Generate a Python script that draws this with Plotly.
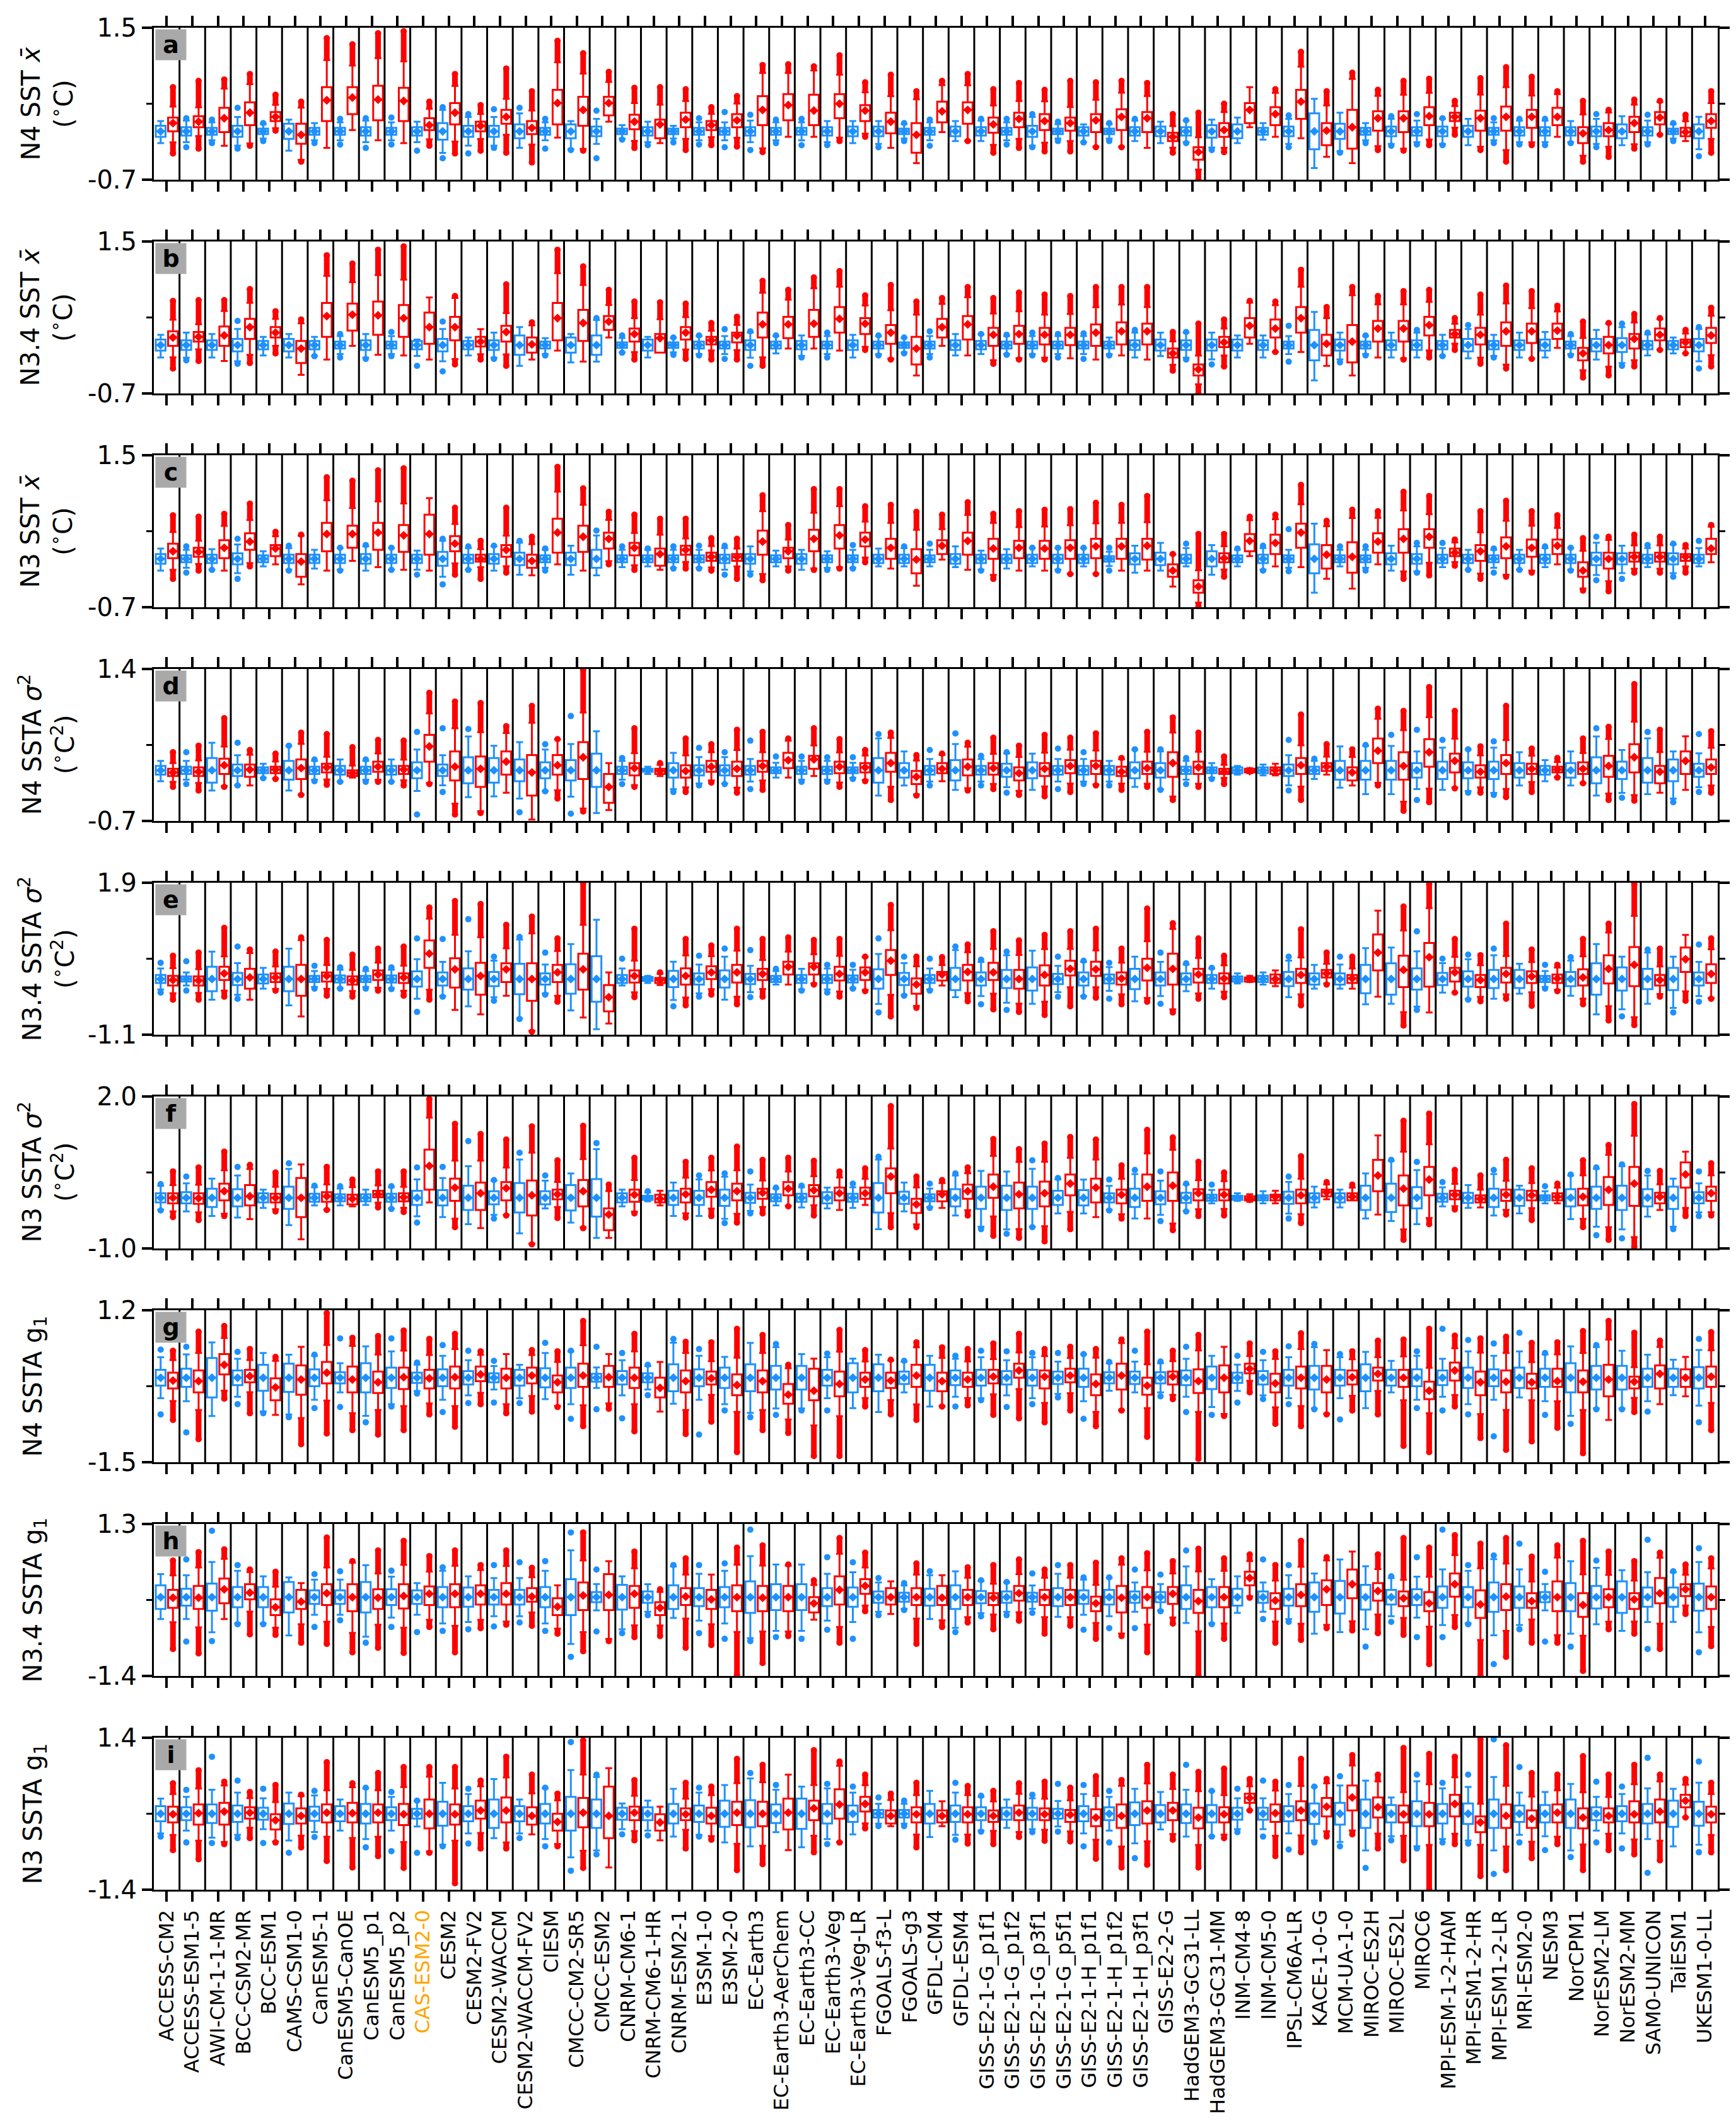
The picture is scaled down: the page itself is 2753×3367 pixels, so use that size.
import plotly.graph_objects as go
from plotly.subplots import make_subplots

RED = "#ff0000"
BLUE = "#1e90ff"
FONT = "DejaVu Sans"

models = [
    "ACCESS-CM2", "ACCESS-ESM1-5", "AWI-CM-1-1-MR", "BCC-CSM2-MR", "BCC-ESM1",
    "CAMS-CSM1-0", "CanESM5-1", "CanESM5-CanOE", "CanESM5_p1", "CanESM5_p2",
    "CAS-ESM2-0", "CESM2", "CESM2-FV2", "CESM2-WACCM", "CESM2-WACCM-FV2",
    "CIESM", "CMCC-CM2-SR5", "CMCC-ESM2", "CNRM-CM6-1", "CNRM-CM6-1-HR",
    "CNRM-ESM2-1", "E3SM-1-0", "E3SM-2-0", "EC-Earth3", "EC-Earth3-AerChem",
    "EC-Earth3-CC", "EC-Earth3-Veg", "EC-Earth3-Veg-LR", "FGOALS-f3-L", "FGOALS-g3",
    "GFDL-CM4", "GFDL-ESM4", "GISS-E2-1-G_p1f1", "GISS-E2-1-G_p1f2", "GISS-E2-1-G_p3f1",
    "GISS-E2-1-G_p5f1", "GISS-E2-1-H_p1f1", "GISS-E2-1-H_p1f2", "GISS-E2-1-H_p3f1", "GISS-E2-2-G",
    "HadGEM3-GC31-LL", "HadGEM3-GC31-MM", "INM-CM4-8", "INM-CM5-0", "IPSL-CM6A-LR",
    "KACE-1-0-G", "MCM-UA-1-0", "MIROC-ES2H", "MIROC-ES2L", "MIROC6",
    "MPI-ESM-1-2-HAM", "MPI-ESM1-2-HR", "MPI-ESM1-2-LR", "MRI-ESM2-0", "NESM3",
    "NorCPM1", "NorESM2-LM", "NorESM2-MM", "SAM0-UNICON", "TaiESM1",
    "UKESM1-0-LL",
]
highlight = "CAS-ESM2-0"

# ---------------- a: N4 SST mean ----------------
a_red_q3 = [0.20, 0.22, 0.34, 0.42, 0.28, 0.11, 0.64, 0.64, 0.66, 0.63,
            0.19, 0.41, 0.14, 0.31, 0.15, 0.60, 0.50, 0.50, 0.24, 0.17,
            0.27, 0.15, 0.25, 0.51, 0.54, 0.53, 0.54, 0.38, 0.27, 0.12,
            0.43, 0.42, 0.20, 0.27, 0.25, 0.20, 0.25, 0.32, 0.28, -0.02,
            -0.23, 0.12, 0.41, 0.35, 0.60, 0.12, 0.31, 0.29, 0.29, 0.35,
            0.27, 0.30, 0.36, 0.31, 0.34, 0.06, 0.12, 0.21, 0.28, 0.05, 0.25]
a_red_q1 = [0.00, 0.06, -0.01, 0.09, 0.15, -0.18, 0.15, 0.25, 0.16, 0.15,
            0.02, 0.10, 0.00, 0.11, -0.04, 0.10, 0.08, 0.23, 0.03, -0.10,
            0.06, 0.02, 0.06, 0.09, 0.16, 0.09, 0.19, 0.15, -0.03, -0.31,
            0.13, 0.11, -0.02, 0.06, 0.02, 0.01, -0.01, 0.02, -0.01, -0.14,
            -0.41, -0.08, 0.12, 0.09, 0.18, -0.20, -0.25, 0.01, -0.01, 0.09,
            0.15, 0.01, 0.01, 0.05, 0.09, -0.17, -0.07, -0.01, 0.10, -0.07, 0.05]
a_red_mean = [0.12, 0.14, 0.19, 0.27, 0.21, -0.05, 0.45, 0.49, 0.46, 0.44,
              0.09, 0.27, 0.08, 0.21, 0.05, 0.41, 0.31, 0.41, 0.14, 0.10,
              0.17, 0.09, 0.16, 0.31, 0.38, 0.30, 0.40, 0.30, 0.14, -0.05,
              0.29, 0.31, 0.10, 0.18, 0.15, 0.12, 0.16, 0.21, 0.19, -0.08,
              -0.30, 0.02, 0.31, 0.25, 0.43, 0.01, 0.06, 0.19, 0.19, 0.22,
              0.21, 0.19, 0.21, 0.21, 0.21, -0.03, 0.02, 0.12, 0.20, -0.01, 0.15]
a_red_hi = [0.64, 0.73, 0.75, 0.83, 0.53, 0.43, 1.35, 1.26, 1.42, 1.45,
            0.43, 0.83, 0.38, 0.91, 0.58, 1.31, 1.13, 0.86, 0.63, 0.64,
            0.61, 0.35, 0.51, 0.96, 0.97, 0.94, 1.10, 0.71, 0.82, 0.58,
            0.73, 0.83, 0.61, 0.70, 0.60, 0.73, 0.71, 0.73, 0.70, 0.25,
            0.27, 0.40, 0.64, 0.61, 1.15, 0.58, 0.85, 0.60, 0.73, 0.76,
            0.44, 0.77, 0.93, 0.79, 0.58, 0.44, 0.31, 0.46, 0.44, 0.24, 0.58]
a_red_lo = [-0.32, -0.25, -0.21, -0.21, 0.01, -0.44, -0.24, 0.02, -0.13, -0.17,
            -0.21, -0.32, -0.28, -0.31, -0.45, -0.09, -0.28, 0.14, -0.24, -0.17,
            -0.27, -0.20, -0.22, -0.30, -0.08, -0.08, -0.14, -0.08, -0.24, -0.46,
            -0.01, -0.14, -0.31, -0.24, -0.29, -0.29, -0.23, -0.23, -0.24, -0.31,
            -0.70, -0.30, 0.06, -0.08, -0.10, -0.37, -0.46, -0.27, -0.28, -0.20,
            -0.05, -0.27, -0.44, -0.20, -0.08, -0.44, -0.37, -0.25, -0.05, -0.14, -0.31]
a_blue_half = [0.08, 0.06, 0.05, 0.08, 0.04, 0.11, 0.05, 0.05, 0.06, 0.05,
               0.06, 0.12, 0.08, 0.08, 0.10, 0.05, 0.10, 0.07, 0.04, 0.06,
               0.04, 0.05, 0.05, 0.06, 0.05, 0.05, 0.06, 0.07, 0.07, 0.04,
               0.05, 0.07, 0.06, 0.05, 0.08, 0.04, 0.06, 0.04, 0.06, 0.07,
               0.06, 0.09, 0.10, 0.05, 0.07, 0.26, 0.11, 0.05, 0.07, 0.06,
               0.07, 0.08, 0.05, 0.06, 0.06, 0.06, 0.07, 0.10, 0.06, 0.04, 0.10]
a_blue_hi = [0.15, 0.19, 0.17, 0.34, 0.12, 0.17, 0.12, 0.18, 0.19, 0.20,
             0.14, 0.35, 0.25, 0.32, 0.34, 0.18, 0.15, 0.30, 0.09, 0.14,
             0.08, 0.19, 0.28, 0.24, 0.17, 0.18, 0.15, 0.15, 0.15, 0.12,
             0.17, 0.15, 0.18, 0.18, 0.25, 0.14, 0.10, 0.12, 0.18, 0.14,
             0.16, 0.17, 0.20, 0.12, 0.23, 0.47, 0.27, 0.12, 0.22, 0.25,
             0.19, 0.18, 0.19, 0.18, 0.18, 0.15, 0.25, 0.22, 0.24, 0.12, 0.21]
a_blue_lo = [-0.17, -0.23, -0.17, -0.25, -0.14, -0.28, -0.17, -0.19, -0.24, -0.19,
             -0.28, -0.39, -0.32, -0.24, -0.24, -0.25, -0.27, -0.39, -0.12, -0.20,
             -0.16, -0.19, -0.23, -0.27, -0.17, -0.20, -0.20, -0.17, -0.23, -0.14,
             -0.21, -0.14, -0.14, -0.19, -0.23, -0.14, -0.16, -0.14, -0.14, -0.17,
             -0.17, -0.27, -0.17, -0.12, -0.23, -0.53, -0.31, -0.17, -0.21, -0.19,
             -0.20, -0.20, -0.17, -0.19, -0.20, -0.17, -0.23, -0.20, -0.19, -0.14, -0.36]

# ---------------- b: N3.4 SST mean ----------------
b_red_q3 = [0.20, 0.19, 0.27, 0.38, 0.26, 0.06, 0.61, 0.60, 0.63, 0.58,
            0.47, 0.41, 0.12, 0.28, 0.11, 0.61, 0.51, 0.42, 0.24, 0.16,
            0.26, 0.12, 0.18, 0.47, 0.41, 0.51, 0.55, 0.39, 0.29, 0.12,
            0.38, 0.42, 0.25, 0.28, 0.25, 0.25, 0.30, 0.33, 0.31, -0.05,
            -0.28, 0.12, 0.39, 0.37, 0.55, 0.15, 0.29, 0.35, 0.35, 0.41,
            0.22, 0.25, 0.33, 0.31, 0.31, -0.04, 0.12, 0.16, 0.24, 0.08, 0.25]
b_red_q1 = [-0.01, 0.05, -0.01, 0.09, 0.11, -0.26, 0.12, 0.21, 0.15, 0.12,
            0.02, 0.07, -0.02, 0.05, -0.11, 0.07, 0.06, 0.22, 0.05, -0.11,
            0.08, 0.01, 0.04, 0.11, 0.10, 0.12, 0.18, 0.16, 0.02, -0.28,
            0.11, 0.08, -0.01, 0.02, 0.01, 0.00, -0.01, 0.01, 0.01, -0.18,
            -0.44, -0.03, 0.11, 0.11, 0.18, -0.15, -0.25, 0.05, 0.05, 0.14,
            0.11, 0.01, -0.01, 0.03, 0.09, -0.22, -0.12, -0.05, 0.07, -0.03, 0.03]
b_red_mean = [0.11, 0.12, 0.14, 0.26, 0.18, -0.05, 0.42, 0.44, 0.43, 0.39,
              0.26, 0.26, 0.05, 0.19, 0.01, 0.39, 0.32, 0.34, 0.16, 0.10,
              0.18, 0.07, 0.14, 0.30, 0.30, 0.31, 0.38, 0.31, 0.18, -0.05,
              0.26, 0.30, 0.15, 0.16, 0.15, 0.15, 0.18, 0.20, 0.20, -0.12,
              -0.35, 0.04, 0.28, 0.24, 0.39, 0.02, 0.05, 0.24, 0.24, 0.29,
              0.16, 0.15, 0.20, 0.20, 0.21, -0.12, 0.00, 0.09, 0.15, 0.04, 0.14]
b_red_hi = [0.64, 0.65, 0.65, 0.81, 0.49, 0.37, 1.30, 1.18, 1.38, 1.43,
            0.69, 0.71, 0.23, 0.88, 0.33, 1.38, 1.14, 0.80, 0.63, 0.62,
            0.60, 0.32, 0.41, 0.93, 0.80, 0.98, 1.07, 0.72, 0.87, 0.63,
            0.68, 0.84, 0.68, 0.76, 0.73, 0.71, 0.84, 0.84, 0.84, 0.19,
            0.31, 0.37, 0.64, 0.63, 1.09, 0.55, 0.84, 0.71, 0.78, 0.80,
            0.39, 0.73, 0.86, 0.78, 0.57, 0.34, 0.32, 0.45, 0.39, 0.22, 0.54]
b_red_lo = [-0.34, -0.23, -0.23, -0.26, -0.12, -0.43, -0.21, -0.01, -0.14, -0.15,
            -0.21, -0.28, -0.21, -0.30, -0.21, -0.08, -0.24, 0.11, -0.21, -0.10,
            -0.20, -0.21, -0.21, -0.30, -0.05, -0.05, -0.08, -0.07, -0.21, -0.44,
            -0.01, -0.15, -0.27, -0.21, -0.21, -0.19, -0.21, -0.15, -0.21, -0.37,
            -0.70, -0.31, 0.02, -0.10, -0.10, -0.30, -0.44, -0.18, -0.21, -0.18,
            -0.07, -0.27, -0.34, -0.20, -0.04, -0.47, -0.44, -0.31, -0.07, -0.12, -0.31]
b_blue_half = [0.08, 0.07, 0.07, 0.09, 0.06, 0.09, 0.06, 0.05, 0.07, 0.05,
               0.06, 0.09, 0.06, 0.07, 0.14, 0.05, 0.11, 0.14, 0.04, 0.08,
               0.04, 0.05, 0.05, 0.07, 0.05, 0.06, 0.05, 0.07, 0.05, 0.04,
               0.05, 0.07, 0.06, 0.05, 0.05, 0.05, 0.05, 0.05, 0.07, 0.08,
               0.07, 0.08, 0.08, 0.07, 0.05, 0.22, 0.08, 0.05, 0.07, 0.07,
               0.06, 0.09, 0.06, 0.07, 0.08, 0.05, 0.09, 0.10, 0.06, 0.06, 0.09]
b_blue_hi = [0.15, 0.18, 0.16, 0.35, 0.12, 0.16, 0.12, 0.16, 0.16, 0.19,
             0.08, 0.34, 0.11, 0.18, 0.26, 0.10, 0.16, 0.39, 0.14, 0.12,
             0.11, 0.14, 0.23, 0.20, 0.14, 0.14, 0.18, 0.15, 0.14, 0.11,
             0.20, 0.16, 0.16, 0.15, 0.18, 0.16, 0.17, 0.11, 0.22, 0.18,
             0.19, 0.18, 0.14, 0.14, 0.28, 0.48, 0.18, 0.14, 0.18, 0.22,
             0.15, 0.29, 0.15, 0.18, 0.19, 0.16, 0.22, 0.31, 0.18, 0.11, 0.26]
b_blue_lo = [-0.18, -0.22, -0.18, -0.27, -0.15, -0.18, -0.16, -0.18, -0.20, -0.16,
             -0.30, -0.38, -0.15, -0.20, -0.30, -0.15, -0.25, -0.24, -0.11, -0.18,
             -0.14, -0.15, -0.20, -0.30, -0.12, -0.18, -0.18, -0.18, -0.15, -0.12,
             -0.18, -0.15, -0.13, -0.14, -0.15, -0.18, -0.20, -0.15, -0.18, -0.16,
             -0.21, -0.28, -0.18, -0.18, -0.24, -0.51, -0.25, -0.15, -0.18, -0.18,
             -0.16, -0.19, -0.18, -0.18, -0.18, -0.15, -0.21, -0.30, -0.15, -0.12, -0.34]

# ---------------- c: N3 SST mean ----------------
c_red_q3 = [0.22, 0.16, 0.27, 0.37, 0.20, 0.07, 0.52, 0.48, 0.52, 0.49,
            0.64, 0.33, 0.06, 0.20, 0.06, 0.58, 0.48, 0.38, 0.23, 0.15,
            0.19, 0.09, 0.07, 0.41, 0.16, 0.42, 0.49, 0.38, 0.29, 0.14,
            0.27, 0.38, 0.29, 0.26, 0.26, 0.27, 0.29, 0.29, 0.29, -0.08,
            -0.31, 0.08, 0.36, 0.35, 0.51, 0.20, 0.24, 0.37, 0.43, 0.43,
            0.15, 0.20, 0.31, 0.28, 0.28, -0.05, 0.09, 0.09, 0.09, 0.07, 0.29]
c_red_q1 = [0.01, 0.03, 0.01, 0.13, 0.04, -0.26, 0.11, 0.16, 0.13, 0.10,
            0.06, 0.11, -0.04, 0.03, -0.13, 0.09, 0.10, 0.15, 0.05, -0.10,
            0.06, -0.03, -0.03, 0.06, 0.01, 0.11, 0.15, 0.18, 0.00, -0.21,
            0.07, 0.06, 0.00, 0.01, 0.00, 0.00, 0.01, 0.00, -0.01, -0.26,
            -0.49, -0.05, 0.11, 0.07, 0.16, -0.14, -0.20, 0.09, 0.09, 0.16,
            0.04, -0.03, 0.01, 0.03, 0.07, -0.26, -0.14, -0.04, -0.04, -0.03, 0.07]
c_red_mean = [0.11, 0.10, 0.16, 0.25, 0.15, -0.04, 0.36, 0.36, 0.38, 0.34,
              0.36, 0.22, 0.00, 0.13, -0.03, 0.38, 0.32, 0.29, 0.16, 0.07,
              0.13, 0.03, 0.03, 0.25, 0.11, 0.29, 0.34, 0.28, 0.16, -0.01,
              0.19, 0.26, 0.15, 0.16, 0.15, 0.16, 0.18, 0.18, 0.19, -0.17,
              -0.40, 0.01, 0.26, 0.23, 0.38, 0.06, 0.03, 0.25, 0.29, 0.32,
              0.09, 0.11, 0.18, 0.16, 0.19, -0.17, 0.00, 0.03, 0.03, 0.03, 0.15]
c_red_hi = [0.63, 0.61, 0.65, 0.80, 0.39, 0.35, 1.18, 1.13, 1.28, 1.31,
            0.88, 0.74, 0.26, 0.74, 0.32, 1.33, 1.02, 0.68, 0.64, 0.58,
            0.58, 0.30, 0.29, 0.92, 0.49, 1.01, 1.01, 0.76, 0.78, 0.68,
            0.64, 0.82, 0.65, 0.69, 0.71, 0.72, 0.81, 0.78, 0.91, 0.07,
            0.36, 0.36, 0.61, 0.64, 1.07, 0.55, 0.71, 0.69, 0.97, 0.91,
            0.28, 0.69, 0.84, 0.69, 0.63, 0.30, 0.32, 0.35, 0.32, 0.20, 0.49]
c_red_lo = [-0.29, -0.17, -0.17, -0.11, -0.08, -0.37, -0.17, -0.03, -0.12, -0.16,
            -0.17, -0.23, -0.29, -0.20, -0.24, -0.08, -0.17, -0.08, -0.16, -0.16,
            -0.14, -0.17, -0.29, -0.31, -0.17, -0.16, -0.14, -0.05, -0.14, -0.39,
            -0.01, -0.16, -0.29, -0.17, -0.17, -0.22, -0.22, -0.17, -0.17, -0.40,
            -0.69, -0.26, 0.04, -0.11, -0.12, -0.29, -0.43, -0.08, -0.29, -0.24,
            -0.10, -0.29, -0.26, -0.20, -0.08, -0.46, -0.47, -0.20, -0.20, -0.20, -0.05]
c_blue_half = [0.07, 0.05, 0.06, 0.08, 0.05, 0.06, 0.06, 0.06, 0.07, 0.06,
               0.06, 0.10, 0.06, 0.07, 0.09, 0.05, 0.09, 0.13, 0.05, 0.05,
               0.05, 0.05, 0.06, 0.07, 0.05, 0.07, 0.05, 0.05, 0.06, 0.06,
               0.05, 0.07, 0.06, 0.06, 0.06, 0.06, 0.06, 0.04, 0.08, 0.09,
               0.06, 0.11, 0.05, 0.06, 0.05, 0.21, 0.05, 0.05, 0.08, 0.07,
               0.06, 0.06, 0.05, 0.06, 0.06, 0.06, 0.09, 0.08, 0.06, 0.08, 0.06]
c_blue_hi = [0.15, 0.18, 0.14, 0.29, 0.11, 0.19, 0.13, 0.16, 0.20, 0.16,
             0.12, 0.29, 0.18, 0.19, 0.26, 0.15, 0.19, 0.41, 0.18, 0.15,
             0.18, 0.19, 0.19, 0.18, 0.12, 0.13, 0.11, 0.20, 0.15, 0.18,
             0.22, 0.18, 0.12, 0.14, 0.16, 0.16, 0.16, 0.16, 0.19, 0.23,
             0.22, 0.20, 0.15, 0.19, 0.43, 0.51, 0.18, 0.18, 0.19, 0.23,
             0.23, 0.13, 0.15, 0.13, 0.18, 0.16, 0.32, 0.19, 0.20, 0.22, 0.26]
c_blue_lo = [-0.17, -0.20, -0.16, -0.29, -0.11, -0.17, -0.14, -0.17, -0.17, -0.16,
             -0.23, -0.37, -0.16, -0.17, -0.23, -0.17, -0.23, -0.24, -0.12, -0.11,
             -0.14, -0.14, -0.23, -0.23, -0.11, -0.16, -0.16, -0.14, -0.11, -0.11,
             -0.11, -0.12, -0.17, -0.14, -0.11, -0.17, -0.11, -0.17, -0.20, -0.17,
             -0.11, -0.23, -0.11, -0.17, -0.18, -0.49, -0.11, -0.17, -0.17, -0.20,
             -0.12, -0.16, -0.20, -0.16, -0.12, -0.17, -0.31, -0.29, -0.12, -0.26, -0.11]

# ---------------- d: N4 SSTA variance ----------------
d_red_q3 = [0.02, 0.04, 0.16, 0.08, 0.05, 0.15, 0.09, 0.00, 0.12, 0.06,
            0.49, 0.26, 0.19, 0.26, 0.21, 0.21, 0.39, -0.05, 0.10, 0.02,
            0.07, 0.13, 0.12, 0.13, 0.24, 0.20, 0.12, 0.10, 0.24, -0.01,
            0.10, 0.15, 0.10, 0.04, 0.10, 0.14, 0.13, 0.05, 0.12, 0.25,
            0.12, 0.02, 0.02, 0.04, 0.17, 0.10, 0.04, 0.44, 0.25, 0.43,
            0.23, 0.07, 0.21, 0.09, 0.05, 0.11, 0.20, 0.36, 0.06, 0.26, 0.15]
d_red_q1 = [-0.08, -0.08, -0.05, -0.09, -0.04, -0.12, -0.03, -0.08, -0.02, -0.05,
            0.12, -0.14, -0.23, -0.06, -0.35, -0.06, -0.12, -0.45, -0.07, -0.05,
            -0.10, -0.02, -0.08, -0.02, 0.03, 0.02, -0.04, -0.03, -0.02, -0.19,
            -0.04, -0.07, -0.06, -0.14, -0.08, -0.04, -0.05, -0.08, -0.05, -0.09,
            -0.05, -0.05, -0.03, -0.05, -0.05, -0.01, -0.14, 0.10, -0.13, 0.05,
            -0.03, -0.10, -0.05, -0.05, -0.03, -0.05, -0.09, -0.03, -0.18, -0.05, -0.05]
d_red_mean = [-0.03, -0.02, 0.07, 0.01, 0.01, 0.03, 0.04, -0.04, 0.05, 0.01,
              0.33, 0.05, 0.02, 0.12, -0.03, 0.07, 0.18, -0.23, 0.03, -0.01,
              -0.01, 0.05, 0.02, 0.06, 0.14, 0.15, 0.05, 0.04, 0.10, -0.09,
              0.02, 0.05, 0.03, -0.04, 0.02, 0.06, 0.06, -0.02, 0.03, 0.10,
              0.04, -0.02, -0.01, 0.00, 0.07, 0.05, -0.03, 0.27, 0.06, 0.25,
              0.13, -0.02, 0.10, 0.02, 0.01, 0.02, 0.06, 0.18, -0.02, 0.13, 0.04]
d_red_hi = [0.25, 0.34, 0.72, 0.28, 0.23, 0.52, 0.50, 0.32, 0.42, 0.41,
            1.07, 0.95, 0.93, 0.61, 0.89, 0.43, 1.39, 0.10, 0.58, 0.10,
            0.44, 0.36, 0.56, 0.53, 0.44, 0.58, 0.43, 0.28, 0.52, 0.21,
            0.23, 0.38, 0.45, 0.34, 0.49, 0.45, 0.51, 0.17, 0.53, 0.73,
            0.52, 0.19, 0.03, 0.09, 0.77, 0.36, 0.29, 0.85, 0.82, 1.15,
            0.82, 0.33, 0.89, 0.30, 0.17, 0.44, 0.60, 1.19, 0.56, 0.47, 0.54]
d_red_lo = [-0.23, -0.28, -0.23, -0.21, -0.12, -0.34, -0.20, -0.10, -0.16, -0.21,
            -0.19, -0.61, -0.59, -0.31, -0.68, -0.39, -0.57, -0.55, -0.23, -0.08,
            -0.30, -0.17, -0.31, -0.27, -0.10, -0.08, -0.23, -0.15, -0.41, -0.35,
            -0.15, -0.28, -0.26, -0.34, -0.36, -0.30, -0.21, -0.27, -0.23, -0.41,
            -0.23, -0.19, -0.04, -0.07, -0.41, -0.06, -0.21, -0.21, -0.56, -0.44,
            -0.25, -0.31, -0.37, -0.30, -0.10, -0.18, -0.41, -0.42, -0.31, -0.27, -0.31]
d_blue_half = [0.06, 0.05, 0.17, 0.08, 0.04, 0.13, 0.05, 0.06, 0.05, 0.06,
               0.11, 0.08, 0.18, 0.17, 0.15, 0.11, 0.14, 0.23, 0.05, 0.02,
               0.10, 0.07, 0.07, 0.06, 0.04, 0.05, 0.05, 0.04, 0.17, 0.10,
               0.06, 0.14, 0.06, 0.09, 0.11, 0.06, 0.06, 0.06, 0.11, 0.10,
               0.05, 0.04, 0.04, 0.04, 0.08, 0.05, 0.13, 0.13, 0.13, 0.10,
               0.12, 0.11, 0.12, 0.10, 0.06, 0.10, 0.18, 0.12, 0.17, 0.15, 0.09]
d_blue_hi = [0.13, 0.25, 0.38, 0.38, 0.09, 0.34, 0.15, 0.15, 0.15, 0.15,
             0.53, 0.58, 0.57, 0.34, 0.39, 0.36, 0.75, 0.54, 0.17, 0.05,
             0.24, 0.31, 0.25, 0.41, 0.19, 0.19, 0.18, 0.18, 0.50, 0.26,
             0.28, 0.51, 0.20, 0.25, 0.23, 0.30, 0.25, 0.13, 0.29, 0.29,
             0.17, 0.10, 0.06, 0.08, 0.42, 0.16, 0.33, 0.35, 0.49, 0.56,
             0.42, 0.29, 0.40, 0.25, 0.14, 0.26, 0.58, 0.28, 0.53, 0.26, 0.50]
d_blue_lo = [-0.15, -0.19, -0.28, -0.21, -0.11, -0.28, -0.15, -0.16, -0.16, -0.16,
             -0.61, -0.30, -0.37, -0.36, -0.58, -0.29, -0.60, -0.59, -0.19, -0.05,
             -0.30, -0.21, -0.19, -0.26, -0.10, -0.16, -0.16, -0.12, -0.35, -0.21,
             -0.21, -0.27, -0.21, -0.31, -0.27, -0.26, -0.19, -0.21, -0.23, -0.27,
             -0.19, -0.12, -0.06, -0.07, -0.28, -0.12, -0.24, -0.33, -0.33, -0.41,
             -0.27, -0.31, -0.34, -0.21, -0.15, -0.21, -0.35, -0.38, -0.33, -0.44, -0.30]

# ---------------- e: N3.4 SSTA variance ----------------
e_red_q3 = [0.06, 0.05, 0.24, 0.20, 0.11, 0.28, 0.13, 0.05, 0.17, 0.11,
            0.76, 0.41, 0.32, 0.31, 0.31, 0.28, 0.50, -0.12, 0.17, 0.02,
            0.21, 0.25, 0.28, 0.20, 0.34, 0.31, 0.24, 0.23, 0.57, 0.01,
            0.14, 0.28, 0.32, 0.18, 0.27, 0.36, 0.34, 0.13, 0.40, 0.50,
            0.20, 0.11, 0.03, 0.09, 0.20, 0.18, 0.08, 0.88, 0.46, 0.71,
            0.22, 0.08, 0.22, 0.15, 0.09, 0.19, 0.47, 0.63, 0.08, 0.62, 0.29]
e_red_q1 = [-0.13, -0.13, -0.02, -0.19, -0.06, -0.33, -0.05, -0.11, -0.02, -0.08,
            0.22, -0.17, -0.31, -0.06, -0.43, -0.06, -0.21, -0.64, -0.07, -0.08,
            -0.11, 0.00, -0.07, -0.02, 0.09, 0.09, -0.03, -0.02, 0.08, -0.29,
            -0.03, -0.03, -0.02, -0.19, -0.13, 0.07, 0.06, -0.11, -0.03, -0.11,
            -0.07, -0.09, -0.05, -0.08, -0.08, 0.03, -0.08, 0.17, -0.16, -0.15,
            -0.05, -0.16, -0.07, -0.08, -0.08, -0.13, -0.09, -0.14, -0.13, 0.14, -0.08]
e_red_mean = [-0.02, -0.03, 0.11, 0.03, 0.03, 0.00, 0.06, -0.03, 0.09, 0.03,
              0.50, 0.19, 0.06, 0.19, 0.00, 0.13, 0.19, -0.36, 0.06, -0.02,
              0.06, 0.13, 0.13, 0.10, 0.24, 0.24, 0.10, 0.13, 0.36, -0.11,
              0.09, 0.14, 0.13, 0.00, 0.08, 0.20, 0.19, 0.01, 0.22, 0.20,
              0.09, 0.01, 0.00, 0.00, 0.08, 0.11, 0.01, 0.52, 0.18, 0.43,
              0.13, -0.02, 0.10, 0.05, 0.01, 0.03, 0.20, 0.28, -0.02, 0.39, 0.10]
e_red_hi = [0.46, 0.52, 1.01, 0.58, 0.54, 0.82, 0.77, 0.48, 0.60, 0.64,
            1.41, 1.54, 1.48, 1.07, 1.23, 0.80, 1.90, 0.13, 0.99, 0.13,
            0.79, 0.66, 0.99, 0.79, 0.82, 0.77, 0.79, 0.44, 1.46, 0.44,
            0.43, 0.68, 0.94, 0.76, 0.87, 0.94, 0.99, 0.60, 1.39, 1.10,
            0.80, 0.46, 0.06, 0.17, 0.98, 0.52, 0.44, 1.35, 1.43, 1.87,
            0.79, 0.47, 1.09, 0.58, 0.28, 0.79, 1.09, 1.87, 0.60, 0.87, 0.80]
e_red_lo = [-0.41, -0.41, -0.35, -0.41, -0.23, -0.74, -0.33, -0.35, -0.23, -0.33,
            -0.41, -0.61, -0.70, -0.33, -1.04, -0.45, -0.76, -0.88, -0.36, -0.12,
            -0.52, -0.31, -0.50, -0.35, -0.11, -0.11, -0.35, -0.24, -0.74, -0.57,
            -0.13, -0.44, -0.60, -0.65, -0.71, -0.54, -0.37, -0.50, -0.45, -0.66,
            -0.39, -0.36, -0.06, -0.14, -0.52, -0.11, -0.19, -0.35, -0.92, -0.66,
            -0.27, -0.44, -0.39, -0.53, -0.24, -0.50, -0.82, -0.91, -0.35, -0.43, -0.39]
e_blue_half = [0.08, 0.05, 0.24, 0.12, 0.09, 0.24, 0.06, 0.07, 0.06, 0.07,
               0.15, 0.13, 0.21, 0.14, 0.30, 0.11, 0.29, 0.45, 0.08, 0.04,
               0.16, 0.11, 0.17, 0.10, 0.06, 0.08, 0.08, 0.07, 0.19, 0.12,
               0.08, 0.22, 0.13, 0.18, 0.23, 0.10, 0.13, 0.09, 0.20, 0.13,
               0.11, 0.08, 0.05, 0.06, 0.14, 0.11, 0.11, 0.28, 0.31, 0.21,
               0.12, 0.15, 0.18, 0.18, 0.06, 0.14, 0.31, 0.23, 0.20, 0.22, 0.13]
e_blue_hi = [0.32, 0.35, 0.54, 0.64, 0.22, 0.60, 0.26, 0.23, 0.20, 0.23,
             0.80, 0.79, 1.18, 0.44, 0.83, 0.52, 0.69, 1.17, 0.40, 0.06,
             0.34, 0.46, 0.60, 0.57, 0.20, 0.20, 0.28, 0.28, 0.80, 0.44,
             0.40, 0.64, 0.38, 0.54, 0.56, 0.44, 0.36, 0.32, 0.44, 0.52,
             0.31, 0.22, 0.11, 0.13, 0.44, 0.28, 0.44, 0.61, 0.62, 0.94,
             0.40, 0.48, 0.60, 0.30, 0.28, 0.43, 0.69, 0.44, 0.58, 0.44, 0.68]
e_blue_lo = [-0.27, -0.23, -0.41, -0.39, -0.19, -0.52, -0.19, -0.19, -0.19, -0.20,
             -0.65, -0.35, -0.54, -0.43, -0.79, -0.31, -0.62, -0.99, -0.13, -0.08,
             -0.54, -0.35, -0.41, -0.36, -0.11, -0.23, -0.27, -0.19, -0.66, -0.33,
             -0.23, -0.36, -0.50, -0.61, -0.49, -0.35, -0.35, -0.39, -0.44, -0.49,
             -0.24, -0.19, -0.09, -0.11, -0.36, -0.19, -0.19, -0.50, -0.49, -0.61,
             -0.27, -0.41, -0.39, -0.29, -0.19, -0.33, -0.70, -0.74, -0.49, -0.66, -0.45]

# ---------------- f: N3 SSTA variance ----------------
f_red_q3 = [0.09, 0.09, 0.28, 0.25, 0.08, 0.39, 0.11, 0.06, 0.14, 0.09,
            0.95, 0.38, 0.30, 0.31, 0.34, 0.16, 0.35, -0.21, 0.16, 0.06,
            0.18, 0.31, 0.28, 0.18, 0.31, 0.25, 0.20, 0.20, 0.58, -0.02,
            0.13, 0.26, 0.46, 0.30, 0.32, 0.46, 0.38, 0.16, 0.46, 0.50,
            0.17, 0.16, 0.03, 0.06, 0.16, 0.16, 0.09, 0.75, 0.44, 0.61,
            0.14, 0.05, 0.16, 0.14, 0.09, 0.18, 0.41, 0.61, 0.10, 0.70, 0.22]
f_red_q1 = [-0.11, -0.12, -0.05, -0.15, -0.09, -0.38, -0.08, -0.13, 0.01, -0.07,
            0.16, -0.06, -0.24, -0.05, -0.35, -0.03, -0.17, -0.64, -0.08, -0.09,
            -0.09, 0.02, -0.05, -0.02, 0.05, 0.03, -0.05, -0.02, 0.09, -0.30,
            -0.07, -0.02, 0.00, -0.21, -0.17, 0.05, -0.09, -0.11, -0.06, -0.06,
            -0.05, -0.05, -0.05, -0.05, -0.11, 0.03, -0.05, 0.13, -0.15, 0.05,
            -0.03, -0.09, -0.06, -0.05, -0.05, -0.15, -0.14, -0.16, -0.11, 0.20, -0.06]
f_red_mean = [0.00, -0.01, 0.13, 0.03, 0.00, 0.00, 0.03, -0.02, 0.07, 0.01,
              0.63, 0.20, 0.09, 0.19, 0.05, 0.07, 0.13, -0.33, 0.06, -0.02,
              0.07, 0.16, 0.13, 0.10, 0.18, 0.15, 0.09, 0.09, 0.42, -0.13,
              0.07, 0.13, 0.22, 0.07, 0.09, 0.28, 0.20, 0.06, 0.22, 0.24,
              0.09, 0.06, -0.02, 0.02, 0.05, 0.11, 0.02, 0.44, 0.18, 0.36,
              0.06, -0.02, 0.06, 0.05, 0.02, 0.02, 0.16, 0.28, 0.02, 0.46, 0.09]
f_red_hi = [0.52, 0.60, 0.91, 0.65, 0.50, 0.66, 0.61, 0.36, 0.52, 0.52,
            1.95, 1.46, 1.26, 1.15, 1.41, 0.74, 1.42, 0.26, 0.79, 0.14,
            0.71, 0.79, 1.01, 0.75, 0.79, 0.73, 0.52, 0.58, 1.81, 0.42,
            0.35, 0.60, 1.16, 0.96, 1.07, 1.20, 1.15, 0.64, 1.34, 1.19,
            0.71, 0.50, 0.07, 0.14, 0.82, 0.31, 0.26, 1.23, 1.52, 1.66,
            0.55, 0.44, 0.75, 0.58, 0.28, 0.74, 1.04, 1.85, 0.53, 0.91, 0.68]
f_red_lo = [-0.38, -0.44, -0.36, -0.42, -0.27, -0.82, -0.24, -0.17, -0.19, -0.28,
            -0.09, -0.58, -0.60, -0.35, -0.92, -0.40, -0.60, -0.79, -0.31, -0.15,
            -0.39, -0.36, -0.49, -0.31, -0.17, -0.35, -0.24, -0.14, -0.58, -0.58,
            -0.20, -0.35, -0.75, -0.79, -0.86, -0.62, -0.38, -0.41, -0.41, -0.64,
            -0.36, -0.35, -0.08, -0.11, -0.50, -0.03, -0.05, -0.33, -0.83, -0.52,
            -0.23, -0.19, -0.33, -0.44, -0.11, -0.58, -0.83, -0.97, -0.24, -0.36, -0.35]
f_blue_half = [0.09, 0.11, 0.18, 0.17, 0.09, 0.22, 0.08, 0.07, 0.07, 0.08,
               0.14, 0.15, 0.24, 0.13, 0.29, 0.13, 0.25, 0.37, 0.09, 0.04,
               0.14, 0.14, 0.16, 0.10, 0.07, 0.08, 0.11, 0.08, 0.29, 0.12,
               0.07, 0.17, 0.22, 0.24, 0.22, 0.14, 0.15, 0.09, 0.18, 0.13,
               0.10, 0.06, 0.04, 0.05, 0.12, 0.09, 0.09, 0.24, 0.28, 0.21,
               0.08, 0.10, 0.18, 0.16, 0.05, 0.17, 0.22, 0.24, 0.17, 0.22, 0.11]
f_blue_hi = [0.27, 0.42, 0.38, 0.61, 0.16, 0.68, 0.24, 0.23, 0.16, 0.23,
             0.60, 0.61, 1.12, 0.35, 0.89, 0.44, 0.48, 1.08, 0.16, 0.13,
             0.30, 0.44, 0.48, 0.52, 0.20, 0.24, 0.20, 0.28, 0.81, 0.30,
             0.28, 0.48, 0.53, 0.52, 0.74, 0.39, 0.36, 0.36, 0.55, 0.52,
             0.28, 0.26, 0.09, 0.13, 0.42, 0.22, 0.16, 0.48, 0.75, 0.71,
             0.31, 0.25, 0.55, 0.24, 0.23, 0.46, 0.60, 0.66, 0.53, 0.38, 0.52]
f_blue_lo = [-0.25, -0.27, -0.36, -0.39, -0.20, -0.54, -0.15, -0.15, -0.14, -0.22,
             -0.49, -0.38, -0.52, -0.41, -0.70, -0.21, -0.49, -0.79, -0.17, -0.07,
             -0.36, -0.36, -0.50, -0.31, -0.15, -0.19, -0.21, -0.20, -0.62, -0.27,
             -0.20, -0.35, -0.62, -0.71, -0.58, -0.31, -0.31, -0.25, -0.41, -0.46,
             -0.27, -0.11, -0.06, -0.11, -0.41, -0.19, -0.19, -0.41, -0.46, -0.52,
             -0.17, -0.20, -0.35, -0.31, -0.11, -0.42, -0.74, -0.80, -0.37, -0.62, -0.36]

# ---------------- g: N4 SSTA skewness ----------------
g_red_q3 = [0.09, 0.13, 0.42, 0.14, -0.01, 0.22, 0.28, 0.20, 0.11, 0.18,
            0.14, 0.20, 0.20, 0.16, 0.18, 0.04, 0.25, 0.21, 0.18, 0.00,
            0.13, 0.11, 0.06, 0.13, -0.11, 0.16, 0.11, 0.09, 0.09, 0.23,
            0.09, 0.09, 0.14, 0.25, 0.13, 0.16, 0.06, 0.25, 0.00, 0.11,
            0.15, 0.22, 0.25, 0.07, 0.20, 0.21, 0.13, 0.18, 0.14, -0.07,
            0.27, 0.11, 0.13, 0.07, 0.16, 0.13, 0.23, 0.02, 0.22, 0.15, 0.20]
g_red_q1 = [-0.19, -0.26, 0.06, -0.08, -0.40, -0.30, -0.10, -0.26, -0.27, -0.20,
            -0.19, -0.19, -0.06, -0.19, -0.10, -0.26, -0.16, -0.16, -0.18, -0.35,
            -0.26, -0.12, -0.31, -0.26, -0.46, -0.40, -0.33, -0.16, -0.18, -0.16,
            -0.24, -0.16, -0.10, 0.00, -0.19, -0.08, -0.31, -0.21, -0.30, -0.12,
            -0.27, -0.26, 0.08, -0.26, -0.19, -0.26, -0.12, -0.05, -0.16, -0.38,
            -0.05, -0.31, -0.26, -0.19, -0.16, -0.26, -0.33, -0.19, -0.19, -0.16, -0.16]
g_red_mean = [-0.05, -0.06, 0.23, 0.03, -0.17, -0.03, 0.09, -0.03, -0.08, 0.01,
              -0.01, 0.01, 0.06, 0.00, 0.04, -0.08, 0.04, 0.01, 0.00, -0.18,
              -0.06, -0.01, -0.13, -0.06, -0.30, -0.23, -0.11, -0.03, -0.05, 0.04,
              -0.06, -0.03, 0.02, 0.13, 0.02, 0.04, -0.11, 0.04, -0.14, 0.02,
              -0.06, 0.00, 0.16, -0.10, 0.00, -0.03, 0.01, 0.07, 0.00, -0.23,
              0.13, -0.08, -0.07, -0.08, -0.06, -0.07, -0.03, -0.07, 0.07, 0.00, 0.02]
g_red_hi = [0.48, 0.82, 0.92, 0.51, 0.37, 0.55, 1.15, 0.71, 0.74, 0.84,
            0.69, 0.78, 0.47, 0.42, 0.49, 0.47, 1.01, 0.42, 0.78, 0.28,
            0.64, 0.63, 0.87, 0.76, 0.23, 0.34, 0.85, 0.49, 0.32, 0.63,
            0.54, 0.51, 0.61, 0.78, 0.51, 0.55, 0.51, 0.68, 0.82, 0.48,
            0.76, 0.55, 0.61, 0.47, 0.79, 0.49, 0.47, 0.66, 0.68, 0.87,
            0.75, 0.70, 0.73, 0.62, 0.63, 0.83, 1.01, 0.80, 0.66, 0.37, 0.81]
g_red_lo = [-0.75, -1.09, -0.37, -0.63, -0.66, -1.18, -0.99, -0.93, -1.01, -0.93,
            -0.65, -0.87, -0.47, -0.63, -0.60, -0.52, -0.86, -0.55, -0.95, -0.60,
            -1.00, -0.78, -1.32, -0.93, -0.98, -1.39, -1.39, -0.51, -0.65, -0.75,
            -0.51, -0.49, -0.66, -0.72, -0.79, -0.58, -0.86, -0.58, -1.05, -0.38,
            -1.44, -0.68, -0.26, -0.82, -0.86, -0.65, -0.58, -0.65, -1.21, -1.32,
            -0.51, -1.07, -1.28, -1.13, -0.89, -1.34, -0.75, -0.61, -0.47, -0.33, -0.93]
g_blue_half = [0.14, 0.16, 0.35, 0.13, 0.23, 0.25, 0.15, 0.10, 0.26, 0.18,
               0.09, 0.15, 0.12, 0.08, 0.14, 0.17, 0.18, 0.07, 0.12, 0.08,
               0.24, 0.15, 0.18, 0.24, 0.21, 0.21, 0.14, 0.26, 0.24, 0.11,
               0.23, 0.13, 0.14, 0.12, 0.14, 0.11, 0.16, 0.10, 0.11, 0.10,
               0.13, 0.20, 0.09, 0.12, 0.14, 0.21, 0.14, 0.24, 0.14, 0.15,
               0.13, 0.18, 0.15, 0.18, 0.16, 0.26, 0.21, 0.21, 0.16, 0.16, 0.19]
g_blue_hi = [0.50, 0.55, 0.63, 0.46, 0.44, 0.41, 0.41, 0.70, 0.56, 0.70,
             0.27, 0.58, 0.48, 0.30, 0.23, 0.62, 0.48, 0.55, 0.44, 0.23,
             0.69, 0.51, 0.37, 0.62, 0.60, 0.42, 0.43, 0.34, 0.41, 0.30,
             0.39, 0.39, 0.48, 0.47, 0.44, 0.44, 0.42, 0.28, 0.48, 0.29,
             0.55, 0.39, 0.39, 0.46, 0.56, 0.60, 0.42, 0.46, 0.30, 0.47,
             0.87, 0.67, 0.61, 0.80, 0.44, 0.56, 0.58, 0.48, 0.41, 0.32, 0.69]
g_blue_lo = [-0.65, -0.97, -0.68, -0.47, -0.63, -0.70, -0.54, -0.52, -0.79, -0.51,
             -0.28, -0.61, -0.45, -0.44, -0.45, -0.38, -0.73, -0.56, -0.72, -0.31,
             -0.46, -1.01, -0.58, -0.70, -0.66, -0.58, -0.58, -0.54, -0.61, -0.26,
             -0.51, -0.51, -0.40, -0.52, -0.47, -0.35, -0.73, -0.23, -0.26, -0.33,
             -0.61, -0.66, -0.44, -0.38, -0.47, -0.56, -0.74, -0.54, -0.26, -0.54,
             -0.58, -0.65, -1.04, -0.35, -0.66, -0.82, -0.56, -0.56, -0.60, -0.31, -0.79]

# ---------------- h: N3.4 SSTA skewness ----------------
h_red_q3 = [0.13, 0.20, 0.33, 0.23, -0.04, 0.13, 0.23, 0.23, 0.14, 0.23,
            0.19, 0.23, 0.21, 0.25, 0.16, -0.02, 0.26, 0.41, 0.20, -0.09,
            0.16, 0.13, 0.21, 0.20, 0.20, 0.00, 0.37, 0.32, 0.16, 0.16,
            0.20, 0.13, 0.07, 0.20, 0.13, 0.13, 0.01, 0.20, 0.18, 0.18,
            0.13, 0.18, 0.45, 0.07, 0.23, 0.30, 0.49, 0.25, 0.10, 0.09,
            0.42, 0.12, 0.23, 0.07, 0.28, 0.07, 0.14, 0.07, 0.34, 0.23, 0.19]
h_red_q1 = [-0.19, -0.21, -0.11, -0.04, -0.32, -0.21, -0.14, -0.25, -0.21, -0.20,
            -0.14, -0.18, -0.13, -0.13, -0.08, -0.32, -0.23, -0.23, -0.19, -0.32,
            -0.14, -0.21, -0.25, -0.25, -0.25, -0.27, -0.13, 0.06, -0.13, -0.14,
            -0.14, -0.14, -0.14, -0.06, -0.14, -0.14, -0.25, -0.27, -0.19, -0.12,
            -0.28, -0.18, 0.21, -0.21, -0.16, -0.14, -0.02, -0.06, -0.16, -0.25,
            0.01, -0.37, -0.23, -0.19, -0.25, -0.35, -0.18, -0.21, -0.11, 0.02, -0.21]
h_red_mean = [-0.01, -0.01, 0.14, 0.08, -0.18, -0.08, 0.07, 0.00, -0.01, 0.02,
              0.06, 0.06, 0.06, 0.06, 0.01, -0.17, 0.03, 0.04, 0.06, -0.19,
              0.01, -0.04, 0.00, -0.01, 0.00, -0.11, 0.13, 0.20, 0.00, 0.00,
              -0.01, 0.00, -0.01, 0.07, 0.00, 0.00, -0.11, -0.01, 0.00, 0.06,
              -0.07, 0.00, 0.34, -0.06, 0.04, 0.14, 0.23, 0.11, -0.02, -0.11,
              0.23, -0.13, 0.01, -0.07, 0.00, -0.14, 0.00, -0.04, 0.07, 0.14, 0.00]
h_red_hi = [0.65, 0.80, 0.85, 0.49, 0.45, 0.25, 1.06, 0.64, 0.83, 1.00,
            0.73, 0.83, 0.57, 0.83, 0.52, 0.21, 1.15, 0.64, 0.81, 0.14,
            0.69, 0.40, 0.88, 0.92, 0.58, 0.30, 1.05, 0.79, 0.28, 0.60,
            0.39, 0.53, 0.57, 0.67, 0.49, 0.57, 0.61, 0.69, 0.78, 0.64,
            0.86, 0.69, 0.76, 0.57, 1.00, 0.71, 0.81, 0.76, 1.05, 0.88,
            1.10, 0.95, 1.05, 0.72, 0.92, 1.00, 0.81, 0.64, 0.79, 0.58, 0.69]
h_red_lo = [-0.92, -1.00, -0.39, -0.66, -0.67, -0.81, -0.83, -0.98, -0.90, -0.99,
            -0.53, -0.98, -0.55, -0.49, -0.51, -0.65, -0.96, -0.78, -0.71, -0.69,
            -0.90, -0.85, -1.38, -1.17, -0.69, -0.40, -0.81, -0.25, -0.30, -0.83,
            -0.53, -0.45, -0.57, -0.42, -0.65, -0.51, -0.74, -0.69, -0.98, -0.47,
            -1.38, -0.74, -0.01, -0.81, -0.76, -0.55, -0.59, -0.64, -0.67, -1.19,
            -0.53, -1.40, -1.06, -0.81, -0.81, -1.31, -0.57, -0.65, -0.92, -0.30, -0.87]
h_blue_half = [0.21, 0.15, 0.24, 0.18, 0.18, 0.27, 0.12, 0.12, 0.27, 0.14,
               0.12, 0.18, 0.17, 0.13, 0.13, 0.18, 0.32, 0.09, 0.22, 0.10,
               0.21, 0.16, 0.18, 0.28, 0.23, 0.23, 0.16, 0.17, 0.10, 0.08,
               0.15, 0.21, 0.11, 0.10, 0.08, 0.16, 0.12, 0.13, 0.10, 0.09,
               0.21, 0.18, 0.15, 0.10, 0.15, 0.26, 0.29, 0.22, 0.13, 0.14,
               0.19, 0.18, 0.26, 0.19, 0.09, 0.25, 0.20, 0.28, 0.17, 0.17, 0.24]
h_blue_hi = [0.41, 0.67, 1.18, 0.57, 0.37, 0.35, 0.41, 0.46, 0.57, 0.47,
             0.25, 0.53, 0.37, 0.57, 0.62, 0.64, 1.15, 0.49, 0.37, 0.23,
             0.57, 0.57, 0.60, 1.20, 0.58, 0.58, 0.71, 0.62, 0.34, 0.25,
             0.46, 0.46, 0.30, 0.27, 0.42, 0.57, 0.35, 0.35, 0.49, 0.40,
             0.83, 0.32, 0.37, 0.67, 0.57, 0.42, 0.67, 0.55, 0.37, 0.71,
             1.20, 0.57, 0.74, 0.95, 0.45, 0.64, 0.65, 0.48, 1.02, 0.46, 0.87]
h_blue_lo = [-0.39, -0.79, -0.78, -0.48, -0.48, -0.68, -0.53, -0.41, -0.81, -0.53,
             -0.62, -0.60, -0.57, -0.52, -0.45, -0.60, -1.06, -0.61, -0.64, -0.32,
             -0.37, -0.64, -0.74, -0.78, -0.71, -0.74, -0.58, -0.74, -0.32, -0.23,
             -0.39, -0.62, -0.34, -0.32, -0.28, -0.35, -0.58, -0.55, -0.55, -0.25,
             -0.46, -0.48, -0.28, -0.39, -0.44, -0.65, -0.62, -0.88, -0.44, -0.71,
             -0.71, -0.48, -1.19, -0.57, -0.79, -0.88, -0.48, -0.60, -0.92, -0.44, -0.98]

# ---------------- i: N3 SSTA skewness ----------------
i_red_q3 = [0.13, 0.17, 0.20, 0.12, -0.01, 0.10, 0.17, 0.20, 0.17, 0.18,
            0.26, 0.17, 0.24, 0.30, 0.12, 0.00, 0.29, 0.50, 0.13, -0.01,
            0.10, 0.11, 0.22, 0.22, 0.28, 0.24, 0.45, 0.31, 0.06, 0.12,
            0.06, 0.12, 0.06, 0.15, 0.10, 0.07, 0.08, 0.17, 0.23, 0.20,
            0.11, 0.12, 0.37, 0.17, 0.23, 0.29, 0.52, 0.30, 0.15, 0.20,
            0.35, -0.05, 0.17, 0.06, 0.17, 0.10, 0.10, 0.23, 0.26, 0.35, 0.13]
i_red_q1 = [-0.16, -0.20, -0.20, -0.09, -0.29, -0.18, -0.16, -0.16, -0.16, -0.21,
            -0.27, -0.20, -0.09, -0.16, -0.20, -0.31, -0.25, -0.45, -0.12, -0.31,
            -0.12, -0.18, -0.21, -0.23, -0.29, -0.12, -0.09, 0.04, -0.18, -0.16,
            -0.16, -0.16, -0.15, -0.12, -0.12, -0.15, -0.23, -0.26, -0.18, -0.12,
            -0.27, -0.16, 0.20, -0.15, -0.12, -0.05, 0.06, -0.07, -0.16, -0.23,
            -0.05, -0.34, -0.26, -0.26, -0.16, -0.27, -0.16, -0.16, -0.16, 0.12, -0.16]
i_red_mean = [-0.01, 0.01, 0.04, 0.02, -0.12, -0.04, 0.02, 0.01, 0.02, -0.01,
              0.00, -0.01, 0.06, 0.06, -0.04, -0.15, 0.02, -0.04, 0.02, -0.16,
              -0.01, -0.04, 0.02, 0.00, 0.02, 0.10, 0.17, 0.18, -0.04, -0.01,
              -0.04, -0.01, -0.04, 0.02, -0.01, -0.02, -0.07, -0.04, 0.06, 0.06,
              -0.07, -0.01, 0.29, 0.01, 0.06, 0.13, 0.30, 0.12, -0.01, -0.01,
              0.18, -0.16, -0.04, -0.09, 0.02, -0.07, -0.04, -0.01, 0.04, 0.24, -0.01]
i_red_hi = [0.56, 0.80, 0.59, 0.40, 0.53, 0.35, 0.95, 0.56, 0.75, 0.86,
            0.86, 0.86, 0.61, 1.05, 0.72, 0.37, 1.35, 0.84, 0.62, 0.13,
            0.57, 0.50, 1.01, 0.90, 0.72, 1.17, 0.96, 0.72, 0.37, 0.57,
            0.23, 0.51, 0.42, 0.56, 0.59, 0.48, 0.69, 0.62, 0.90, 0.72,
            0.77, 0.83, 0.64, 0.59, 1.01, 0.64, 1.08, 0.72, 1.21, 1.10,
            1.05, 1.37, 1.26, 0.75, 0.72, 1.06, 0.72, 0.90, 0.72, 0.64, 0.57]
i_red_lo = [-0.67, -0.84, -0.56, -0.45, -0.53, -0.62, -0.87, -0.99, -0.78, -1.00,
            -0.72, -1.28, -0.64, -0.64, -0.38, -0.60, -1.00, -0.99, -0.49, -0.49,
            -0.64, -0.48, -1.04, -0.93, -0.67, -0.71, -0.53, -0.27, -0.23, -0.62,
            -0.23, -0.55, -0.56, -0.43, -0.50, -0.51, -0.83, -0.99, -0.94, -0.48,
            -0.99, -0.45, 0.06, -0.78, -0.71, -0.42, -0.38, -0.64, -0.86, -1.40,
            -0.56, -1.15, -1.04, -0.82, -0.56, -1.04, -0.67, -0.75, -0.86, -0.07, -0.71]
i_blue_half = [0.14, 0.12, 0.17, 0.15, 0.11, 0.19, 0.13, 0.14, 0.18, 0.12,
               0.09, 0.22, 0.14, 0.26, 0.14, 0.18, 0.31, 0.26, 0.11, 0.12,
               0.18, 0.15, 0.24, 0.25, 0.17, 0.28, 0.18, 0.15, 0.07, 0.07,
               0.18, 0.15, 0.12, 0.11, 0.11, 0.09, 0.14, 0.12, 0.21, 0.16,
               0.17, 0.16, 0.11, 0.11, 0.14, 0.19, 0.20, 0.26, 0.16, 0.23,
               0.18, 0.19, 0.26, 0.15, 0.16, 0.26, 0.12, 0.14, 0.18, 0.24, 0.22]
i_blue_hi = [0.28, 0.44, 1.05, 0.61, 0.46, 0.39, 0.42, 0.26, 0.48, 0.40,
             0.24, 0.57, 0.46, 0.64, 0.26, 0.48, 1.32, 0.72, 0.19, 0.24,
             0.46, 0.48, 0.53, 0.75, 0.53, 0.50, 0.55, 0.50, 0.30, 0.24,
             0.42, 0.57, 0.33, 0.26, 0.35, 0.55, 0.53, 0.42, 0.46, 0.40,
             0.90, 0.42, 0.46, 0.61, 0.53, 0.50, 0.69, 0.61, 0.30, 0.72,
             0.57, 0.72, 1.37, 0.86, 0.40, 0.55, 0.59, 0.50, 1.03, 0.46, 0.96]
i_blue_lo = [-0.42, -0.53, -0.54, -0.45, -0.54, -0.72, -0.43, -0.31, -0.62, -0.69,
             -0.72, -0.60, -0.55, -0.45, -0.45, -0.60, -1.05, -0.75, -0.38, -0.40,
             -0.42, -0.42, -0.53, -0.60, -0.34, -0.62, -0.56, -0.38, -0.23, -0.23,
             -0.43, -0.48, -0.33, -0.26, -0.34, -0.33, -0.60, -0.53, -0.82, -0.29,
             -0.42, -0.42, -0.34, -0.42, -0.66, -0.53, -0.60, -1.00, -0.49, -0.64,
             -0.53, -0.55, -1.11, -0.53, -0.67, -0.80, -0.53, -0.64, -1.09, -0.60, -0.71]

# panel: letter, y label, y min, y max, red stats, blue stats
panels = [
    ("a", "N4 SST <i>x̄</i><br>(<sup>∘</sup>C)", -0.7, 1.5,
     a_red_q1, a_red_q3, a_red_mean, a_red_hi, a_red_lo, a_blue_half, a_blue_hi, a_blue_lo),
    ("b", "N3.4 SST <i>x̄</i><br>(<sup>∘</sup>C)", -0.7, 1.5,
     b_red_q1, b_red_q3, b_red_mean, b_red_hi, b_red_lo, b_blue_half, b_blue_hi, b_blue_lo),
    ("c", "N3 SST <i>x̄</i><br>(<sup>∘</sup>C)", -0.7, 1.5,
     c_red_q1, c_red_q3, c_red_mean, c_red_hi, c_red_lo, c_blue_half, c_blue_hi, c_blue_lo),
    ("d", "N4 SSTA <i>σ</i><sup>2</sup><br>(<sup>∘</sup>C<sup>2</sup>)", -0.7, 1.4,
     d_red_q1, d_red_q3, d_red_mean, d_red_hi, d_red_lo, d_blue_half, d_blue_hi, d_blue_lo),
    ("e", "N3.4 SSTA <i>σ</i><sup>2</sup><br>(<sup>∘</sup>C<sup>2</sup>)", -1.1, 1.9,
     e_red_q1, e_red_q3, e_red_mean, e_red_hi, e_red_lo, e_blue_half, e_blue_hi, e_blue_lo),
    ("f", "N3 SSTA <i>σ</i><sup>2</sup><br>(<sup>∘</sup>C<sup>2</sup>)", -1.0, 2.0,
     f_red_q1, f_red_q3, f_red_mean, f_red_hi, f_red_lo, f_blue_half, f_blue_hi, f_blue_lo),
    ("g", "N4 SSTA g<sub>1</sub>", -1.5, 1.2,
     g_red_q1, g_red_q3, g_red_mean, g_red_hi, g_red_lo, g_blue_half, g_blue_hi, g_blue_lo),
    ("h", "N3.4 SSTA g<sub>1</sub>", -1.4, 1.3,
     h_red_q1, h_red_q3, h_red_mean, h_red_hi, h_red_lo, h_blue_half, h_blue_hi, h_blue_lo),
    ("i", "N3 SSTA g<sub>1</sub>", -1.4, 1.4,
     i_red_q1, i_red_q3, i_red_mean, i_red_hi, i_red_lo, i_blue_half, i_blue_hi, i_blue_lo),
]

N = len(models)
for p in panels:
    for arr in p[4:]:
        assert len(arr) == N, (p[0], len(arr))

WHIS = 0.8  # whisker reach in units of the box height
idx = list(range(1, N + 1))
blue_x = [k - 0.235 for k in idx]
red_x = [k + 0.245 for k in idx]

# figure geometry (pixels)
W, H = 2753, 3367
ML, MR, MT, MB = 236, 37, 36, 378
PANEL_H, GAP = 241, 98
plot_h = H - MT - MB
plot_w = W - ML - MR

fig = make_subplots(rows=9, cols=1, vertical_spacing=GAP / plot_h)


def fences(q1, q3, lo, hi):
    lf = [max(l, a - WHIS * (b - a)) for a, b, l in zip(q1, q3, lo)]
    uf = [min(h, b + WHIS * (b - a)) for a, b, h in zip(q1, q3, hi)]
    return lf, uf


shapes = []
annotations = []
for r, p in enumerate(panels, start=1):
    letter, label, ymin, ymax = p[:4]
    rq1, rq3, rmean, rhi, rlo, bh, bhi, blo = p[4:]

    # control (blue) boxes centred on zero
    bq1 = [-h for h in bh]
    bq3 = list(bh)
    bmid = [0.0] * N
    blf, buf = fences(bq1, bq3, blo, bhi)
    fig.add_trace(go.Box(x=blue_x, q1=bq1, median=bmid, q3=bq3, lowerfence=blf, upperfence=buf,
                         width=0.38, whiskerwidth=0.7, boxpoints=False,
                         line=dict(color=BLUE, width=3), fillcolor="rgba(255,255,255,0)",
                         hoverinfo="skip", showlegend=False), row=r, col=1)
    ox, oy = [], []
    for x, u, h, l, lo_ in zip(blue_x, buf, bhi, blf, blo):
        if h > u + 1e-9:
            ox.append(x); oy.append(h)
        if lo_ < l - 1e-9:
            ox.append(x); oy.append(lo_)
    fig.add_trace(go.Scatter(x=ox, y=oy, mode="markers",
                             marker=dict(symbol="circle", size=10, color=BLUE),
                             hoverinfo="skip", showlegend=False), row=r, col=1)
    fig.add_trace(go.Scatter(x=blue_x, y=bmid, mode="markers",
                             marker=dict(symbol="diamond", size=11, color=BLUE),
                             hoverinfo="skip", showlegend=False), row=r, col=1)

    # experiment (red) boxes
    rlf, ruf = fences(rq1, rq3, rlo, rhi)
    fig.add_trace(go.Box(x=red_x, q1=rq1, median=rmean, q3=rq3, lowerfence=rlf, upperfence=ruf,
                         width=0.38, whiskerwidth=0.7, boxpoints=False,
                         line=dict(color=RED, width=3), fillcolor="rgba(255,255,255,0)",
                         hoverinfo="skip", showlegend=False), row=r, col=1)
    sx, sy, ex, ey = [], [], [], []
    for x, u, h, l, lo_ in zip(red_x, ruf, rhi, rlf, rlo):
        if h > u + 1e-9:
            sx += [x, x, None]; sy += [u, h, None]
            ex.append(x); ey.append(h)
        if lo_ < l - 1e-9:
            sx += [x, x, None]; sy += [lo_, l, None]
            ex.append(x); ey.append(lo_)
    fig.add_trace(go.Scatter(x=sx, y=sy, mode="lines", line=dict(color=RED, width=9),
                             hoverinfo="skip", showlegend=False), row=r, col=1)
    fig.add_trace(go.Scatter(x=ex, y=ey, mode="markers",
                             marker=dict(symbol="circle", size=10, color=RED),
                             hoverinfo="skip", showlegend=False), row=r, col=1)
    fig.add_trace(go.Scatter(x=red_x, y=rmean, mode="markers",
                             marker=dict(symbol="diamond", size=11, color=RED),
                             hoverinfo="skip", showlegend=False), row=r, col=1)

    xr = "x" if r == 1 else f"x{r}"
    yr = "y" if r == 1 else f"y{r}"
    for k in idx[:-1]:
        shapes.append(dict(type="line", xref=xr, yref=f"{yr} domain", x0=k + 0.5, x1=k + 0.5,
                           y0=0, y1=1, line=dict(color="black", width=3)))

    annotations.append(dict(text=f"<b>{letter}</b>", xref=f"{xr} domain", yref=f"{yr} domain",
                            x=0, y=1, xanchor="left", yanchor="top", xshift=2, yshift=-2,
                            showarrow=False, bgcolor="#a9a9a9", width=46, height=46,
                            font=dict(family=FONT, size=38, color="black")))
    two_lines = "<br>" in label
    centre_px = 66 if two_lines else 46
    annotations.append(dict(text=label, xref="paper", yref=f"{yr} domain",
                            x=(centre_px - ML) / plot_w, y=0.5, xanchor="center", yanchor="middle",
                            textangle=-90, showarrow=False,
                            font=dict(family=FONT, size=40, color="black")))

    fig.update_yaxes(row=r, col=1, range=[ymin, ymax], tickmode="array",
                     tickvals=[ymin, ymax], ticktext=[f"{ymin:.1f}", f"{ymax:.1f}"],
                     ticks="outside", ticklen=16, tickwidth=4, tickcolor="black",
                     minor=dict(tickvals=[(ymin + ymax) / 2], ticks="outside", ticklen=9,
                                tickwidth=3, tickcolor="black"),
                     showline=True, linewidth=3, linecolor="black", mirror="ticks",
                     showgrid=False, zeroline=False,
                     tickfont=dict(family=FONT, size=40, color="black"))
    fig.update_xaxes(row=r, col=1, range=[0.5, N + 0.5], tickmode="array", tickvals=idx,
                     ticktext=[f"<span style='color:orange'>{m}</span>" if m == highlight else m
                               for m in models],
                     showticklabels=(r == 9), tickangle=-90,
                     ticks="outside", ticklen=16, tickwidth=4, tickcolor="black",
                     showline=True, linewidth=3, linecolor="black", mirror="ticks",
                     showgrid=False, zeroline=False,
                     tickfont=dict(family=FONT, size=32, color="black"))

fig.update_layout(
    width=W, height=H,
    margin=dict(l=ML, r=MR, t=MT, b=MB),
    paper_bgcolor="white", plot_bgcolor="white",
    boxmode="overlay", showlegend=False,
    shapes=shapes, annotations=annotations,
    font=dict(family=FONT, color="black"),
)

fig.write_html("out.html")
